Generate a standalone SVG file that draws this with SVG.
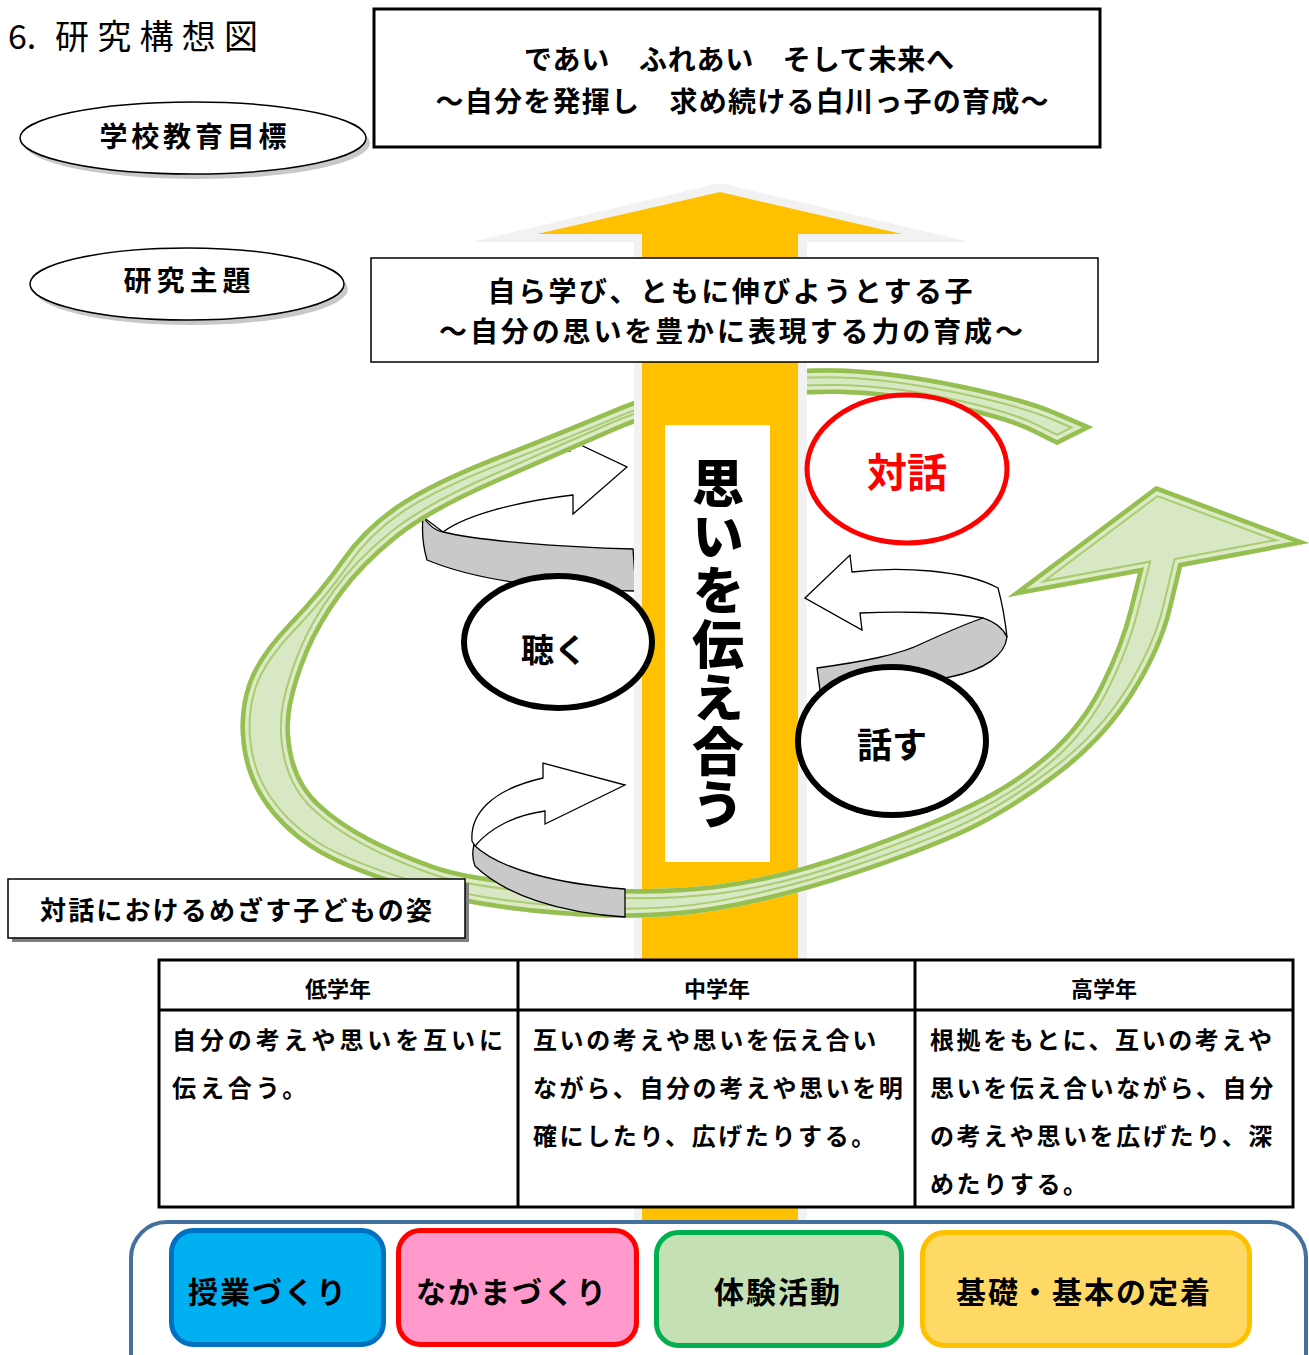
<svg xmlns="http://www.w3.org/2000/svg" xmlns:xlink="http://www.w3.org/1999/xlink" width="1309" height="1355" viewBox="0 0 1309 1355">
<style>
.t{font-family:'Noto Sans CJK JP','Noto Sans CJK SC',sans-serif;font-weight:700;fill:#000}
.c{text-anchor:middle;dominant-baseline:central}
.curl{stroke:#000;stroke-width:1.3;stroke-linejoin:miter}
.box{fill:#fff;stroke:#000}
.cell{font-size:24px;letter-spacing:2.6px;dominant-baseline:central}
.btn{font-size:30px;letter-spacing:2px;dominant-baseline:central}
</style>
<defs>
<path id="band" d="M1093,427 L1058,412 Q1023,397 956.5,383.5 Q890,370 840,368.5 Q790,367 726.5,377.5 Q663,388 613,409 Q563,430 496.5,456 Q430,482 396.5,505 Q363,528 341.5,559 Q320,590 288.5,623 Q257,656 247.5,683.5 Q238,711 241.5,743 Q245,775 262.5,801.5 Q280,828 310,848 Q340,868 405,888 Q470,908 558.5,915 Q647,922 713.5,911 Q780,900 855,875 Q930,850 971.5,830 Q1013,810 1059,775 Q1105,740 1133.5,695 Q1162,650 1172,608.5 L1182,567 L1309,543 L1156,486 L1008,597 L1138,573 L1129,609 Q1120,645 1100,685 Q1080,725 1046.5,754 Q1013,783 971.5,803 Q930,823 855,850 Q780,877 713.5,885 Q647,893 558.5,885.5 Q470,878 433.5,865 Q397,852 368.5,837 Q340,822 320,803.5 Q300,785 293.5,757.5 Q287,730 292,705 Q297,680 308.5,652.5 Q320,625 341.5,595.5 Q363,566 396.5,539 Q430,512 496.5,483 Q563,454 613,432 Q663,410 726.5,401.5 Q790,393 840,394 Q890,395 948.5,407.5 Q1007,420 1032,432.5 L1057,445 Z"/>
<clipPath id="bandClip"><use xlink:href="#band" href="#band"/></clipPath>
<clipPath id="frontClip"><rect x="630" y="840" width="180" height="100"/></clipPath>
</defs>
<rect width="1309" height="1355" fill="#fff"/>

<g id="title" class="t">
<text x="8" y="49" font-size="34" font-weight="400">6.</text>
<text x="55" y="49" font-size="34" font-weight="400" textLength="203" lengthAdjust="spacing">研究構想図</text>
</g>

<g id="goal-label">
<ellipse cx="197" cy="143" rx="173" ry="36" fill="#C8C8C8"/>
<ellipse cx="193" cy="138" rx="173" ry="36" fill="#fff" stroke="#000" stroke-width="1.5"/>
<text class="t c" x="193" y="135" font-size="28" textLength="187" lengthAdjust="spacing">学校教育目標</text>
</g>

<g id="theme-label">
<ellipse cx="191" cy="289" rx="157" ry="36" fill="#C8C8C8"/>
<ellipse cx="187" cy="284" rx="157" ry="36" fill="#fff" stroke="#000" stroke-width="1.5"/>
<text class="t c" x="187" y="279" font-size="28" textLength="127" lengthAdjust="spacing">研究主題</text>
</g>

<g id="connectors">
<g id="curl-listen">
<path class="curl" fill="#fff" d="M423,517 C445,490 500,458 570,451 L570,440 L627,467 L573,514 L573,495 C530,500 470,512 443,532 Z"/>
<path class="curl" fill="#C9C9C9" d="M423,517 Q432,530 443,532 C480,541 560,547 633,549 L636,591 C560,590 480,582 427,560 Q421,540 423,517 Z"/>
</g>
<g id="loop">
<use xlink:href="#band" href="#band" fill="#D9E8C4"/>
<g clip-path="url(#bandClip)" fill="none">
<use xlink:href="#band" href="#band" stroke="#A9CC70" stroke-width="20"/>
<use xlink:href="#band" href="#band" stroke="#DCEAC8" stroke-width="16"/>
<use xlink:href="#band" href="#band" stroke="#95BF50" stroke-width="9"/>
</g>
</g>
<g id="main-arrow">
<polygon points="720,183 970,242 807,242 807,1228 634,1228 634,242 471,242" fill="#F2F2F2"/>
<polygon points="720,192 902,234 798,234 798,1220 642,1220 642,234 537,234" fill="#FFC000"/>
</g>
<g id="loop-front" clip-path="url(#frontClip)">
<use xlink:href="#loop" href="#loop"/>
</g>
<g id="curl-bottom">
<path class="curl" fill="#fff" d="M472,841 C470,815 490,790 543,778 L543,763 L625,785 L545,824 L545,811 C515,815 490,828 475,846 Z"/>
<path class="curl" fill="#C9C9C9" d="M474,845 C500,870 560,884 625,889 L625,917 C560,913 505,895 475,866 Q471,855 474,845 Z"/>
</g>
<g id="curl-speak">
<path class="curl" fill="#fff" d="M805,598 L850,555 L852,572 C900,566 965,570 998,588 Q1004,610 1007,637 C1000,625 990,620 983,618 C950,612 900,611 860,613 L862,630 Z"/>
<path class="curl" fill="#C9C9C9" d="M983,618 C995,622 1003,628 1007,637 C1005,655 985,670 950,677 C900,688 850,690 820,690 L817,668 C860,662 900,655 923,643 C945,633 965,624 983,618 Z"/>
</g>
</g>

<g id="core" class="t">
<rect x="665" y="425" width="105" height="437" fill="#fff"/>
<text x="718" y="457" font-size="52" font-weight="900" letter-spacing="1.6" style="writing-mode:vertical-rl;text-orientation:upright">思いを伝え合う</text>
</g>

<g id="dialogue">
<ellipse cx="907" cy="469" rx="100" ry="74" fill="#fff" stroke="#FF0000" stroke-width="5"/>
<text class="t c" x="907" y="470" font-size="40" style="fill:#FF0000">対話</text>
</g>
<g id="listen">
<ellipse cx="558" cy="642" rx="94" ry="66" fill="#fff" stroke="#000" stroke-width="6"/>
<text class="t c" x="554" y="648" font-size="33">聴く</text>
</g>
<g id="speak">
<ellipse cx="892" cy="741" rx="94" ry="74" fill="#fff" stroke="#000" stroke-width="6"/>
<text class="t c" x="892" y="742" font-size="35">話す</text>
</g>

<g id="goal-box">
<rect class="box" x="374" y="9" width="726" height="138" stroke-width="3"/>
<text class="t c" x="739" y="58" font-size="28" textLength="430" lengthAdjust="spacing">であい　ふれあい　そして未来へ</text>
<text class="t c" x="742" y="100" font-size="28" textLength="613" lengthAdjust="spacing">～自分を発揮し　求め続ける白川っ子の育成～</text>
</g>

<g id="theme-box">
<rect class="box" x="371" y="258" width="727" height="104" stroke="#333" stroke-width="1.5"/>
<text class="t c" x="730" y="290" font-size="28" textLength="485" lengthAdjust="spacing">自ら学び、ともに伸びようとする子</text>
<text class="t c" x="731" y="330" font-size="28" textLength="584" lengthAdjust="spacing">～自分の思いを豊かに表現する力の育成～</text>
</g>

<g id="target-label">
<rect x="12" y="883" width="457" height="59" fill="#808080"/>
<rect class="box" x="8" y="879" width="457" height="59" stroke-width="1.5"/>
<text class="t c" x="236" y="908" font-size="26" textLength="392" lengthAdjust="spacing">対話におけるめざす子どもの姿</text>
</g>

<g id="grade-table" class="t">
<rect x="159" y="960" width="1134" height="247" fill="#fff" stroke="#000" stroke-width="3"/>
<line x1="159" y1="1010" x2="1293" y2="1010" stroke="#000" stroke-width="3"/>
<line x1="518" y1="960" x2="518" y2="1207" stroke="#000" stroke-width="3"/>
<line x1="915" y1="960" x2="915" y2="1207" stroke="#000" stroke-width="3"/>
<text class="c" x="338" y="987" font-size="22">低学年</text>
<text class="c" x="717" y="987" font-size="22">中学年</text>
<text class="c" x="1104" y="987" font-size="22">高学年</text>
<text class="cell" x="172" y="1038" style="letter-spacing:3.9px">自分の考えや思いを互いに</text>
<text class="cell" x="172" y="1086" style="letter-spacing:3.9px">伝え合う。</text>
<text class="cell" x="533" y="1038">互いの考えや思いを伝え合い</text>
<text class="cell" x="533" y="1086">ながら、自分の考えや思いを明</text>
<text class="cell" x="533" y="1134">確にしたり、広げたりする。</text>
<text class="cell" x="930" y="1038">根拠をもとに、互いの考えや</text>
<text class="cell" x="930" y="1086">思いを伝え合いながら、自分</text>
<text class="cell" x="930" y="1134">の考えや思いを広げたり、深</text>
<text class="cell" x="930" y="1182">めたりする。</text>
</g>

<g id="foundation" class="t">
<rect x="131" y="1222" width="1175" height="170" rx="36" fill="#fff" stroke="#41719C" stroke-width="4"/>
<rect x="171.5" y="1230.5" width="212" height="114" rx="22" fill="#00B0F0" stroke="#0070C0" stroke-width="5"/>
<text class="btn" x="188" y="1290">授業づくり</text>
<rect x="398.5" y="1230.5" width="238" height="114" rx="22" fill="#FF99CC" stroke="#FF0000" stroke-width="5"/>
<text class="btn" x="416" y="1290">なかまづくり</text>
<rect x="656.5" y="1232.5" width="245" height="113" rx="22" fill="#C5E0B4" stroke="#00B050" stroke-width="5"/>
<text class="btn" x="714" y="1290">体験活動</text>
<rect x="922.5" y="1232.5" width="327" height="113" rx="22" fill="#FFD966" stroke="#FFC000" stroke-width="5"/>
<text class="btn" x="956" y="1290">基礎・基本の定着</text>
</g>
</svg>
